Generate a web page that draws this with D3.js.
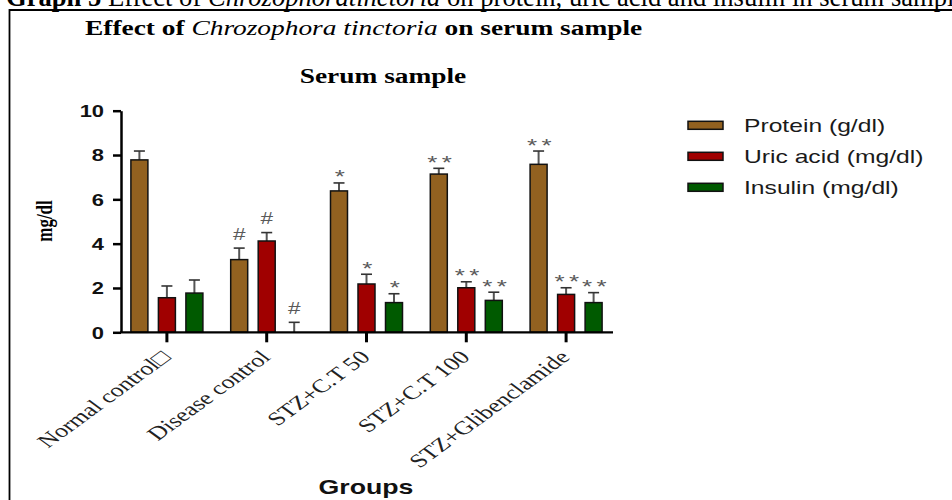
<!DOCTYPE html>
<html><head><meta charset="utf-8">
<script src="https://cdn.jsdelivr.net/npm/d3@7"></script>
<style>body{margin:0;background:#fff}svg{display:block}</style>
</head><body><svg id="c" width="952" height="500"></svg>
<script>
const categories = ["Normal control\u25A1","Disease control","STZ+C.T 50","STZ+C.T 100","STZ+Glibenclamide"];
const seriesNames = ["Protein (g/dl)","Uric acid (mg/dl)","Insulin (mg/dl)"];
const protein = [7.78,3.28,6.38,7.14,7.58];
const proteinErr = [0.40,0.52,0.36,0.26,0.60];
const uricAcid = [1.56,4.12,2.18,2.01,1.71];
const uricAcidErr = [0.53,0.38,0.44,0.27,0.30];
const insulin = [1.77,0.0,1.34,1.44,1.34];
const insulinErr = [0.59,0.45,0.40,0.37,0.45];
const proteinSig = ["","#","*","* *","* *"];
const uricAcidSig = ["","#","*","* *","* *"];
const insulinSig = ["","#","*","* *","* *"];
const yTicks = [0,2,4,6,8,10];
const colors = ["#926120","#a00000","#005a00"];

const SX = 1.37; // horizontal stretch of the original picture
const svg = d3.select("#c");
const serif = "'Liberation Serif','Times New Roman',serif";
const sans = "'Liberation Sans',Arial,Helvetica,sans-serif";

const values = [protein, uricAcid, insulin];
const errs = [proteinErr, uricAcidErr, insulinErr];
const sigs = [proteinSig, uricAcidSig, insulinSig];

// caption above frame (cut off at the top edge, as in the original)
const cap = svg.append("text").attr("x",6).attr("y",6)
  .attr("font-family",serif).attr("font-size",26.6).attr("fill","#000");
cap.append("tspan").attr("font-weight","bold").text("Graph 5 ");
cap.append("tspan").text("Effect of ");
cap.append("tspan").attr("font-style","italic").text("Chrozophoratinctoria");
cap.append("tspan").text(" on protein, uric acid and insulin in serum sample");

// frame
svg.append("path").attr("d","M9.5,500V10H952").attr("fill","none").attr("stroke","#000").attr("stroke-width",1.8);

function sText(parent, x, y, extra){
  return parent.append("text").attr("transform",`translate(${x},${y}) scale(${SX},1)${extra||""}`);
}

// titles
const t1 = sText(svg,85,35).attr("font-family",serif).attr("font-size",20).attr("font-weight","bold");
t1.append("tspan").text("Effect of ");
t1.append("tspan").attr("font-style","italic").attr("font-weight","normal").text("Chrozophora tinctoria");
t1.append("tspan").text(" on serum sample");

sText(svg,383,83).attr("text-anchor","middle").attr("font-family",serif).attr("font-size",20)
  .attr("font-weight","bold").text("Serum sample");

// scales
const x0 = d3.scaleBand().domain(categories).range([117,616]);
const y = d3.scaleLinear().domain([0,10]).range([332.3,110.7]);
const x1 = d3.scaleBand().domain(seriesNames).range([0,72]).paddingInner(0.382);
const gOff = c => x0(c) + (x0.bandwidth()-72)/2;

// bars
seriesNames.forEach((s,si)=>{
  const g = svg.append("g");
  categories.forEach((c,ci)=>{
    const v = values[si][ci], e = errs[si][ci];
    const bx = gOff(c)+x1(s), bw = x1.bandwidth(), cx = bx+bw/2;
    // error bar
    g.append("line").attr("x1",cx).attr("x2",cx).attr("y1",y(v)).attr("y2",y(v+e))
      .attr("stroke","#555").attr("stroke-width",2);
    g.append("line").attr("x1",cx-5.5).attr("x2",cx+5.5).attr("y1",y(v+e)).attr("y2",y(v+e))
      .attr("stroke","#333").attr("stroke-width",1.6);
    if (v>0) g.append("rect").attr("x",bx).attr("y",y(v)).attr("width",bw).attr("height",y(0)-y(v))
      .attr("fill",colors[si]).attr("stroke","#111").attr("stroke-width",1.5);
    const lab = sigs[si][ci];
    if (lab){
      const hash = lab.includes("#");
      const t = sText(g,cx,y(v+e)-(hash ? 8.5 : -0.5)).attr("text-anchor","middle").attr("font-family",sans)
        .attr("font-size",hash ? 16.5 : 19).attr("fill","#5a5a5a").text(lab);
      if (!hash) t.attr("letter-spacing",-1);
    }
  });
});

// y axis
const ya = svg.append("g").attr("transform","translate(121,0)")
  .call(d3.axisLeft(y).tickValues(yTicks).tickSize(8).tickSizeOuter(0).tickFormat(d3.format("d")));
ya.select(".domain").attr("stroke","#000").attr("stroke-width",2.5);
ya.selectAll(".tick line").attr("stroke","#000").attr("stroke-width",2.5);
ya.selectAll(".tick text").attr("x",null).attr("dy","0.36em")
  .attr("transform",`translate(-17,0) scale(${SX},1)`)
  .attr("font-family",sans).attr("font-size",16).attr("font-weight","bold").attr("fill","#111");

// x axis
svg.append("line").attr("x1",120).attr("x2",613).attr("y1",y(0)).attr("y2",y(0))
  .attr("stroke","#000").attr("stroke-width",2.2);
const xa = svg.append("g").attr("transform",`translate(0,${y(0)})`)
  .call(d3.axisBottom(x0).tickSize(10).tickSizeOuter(0));
xa.select(".domain").remove();
xa.selectAll(".tick line").attr("stroke","#000").attr("stroke-width",3);
xa.selectAll(".tick text").attr("y",null).attr("dy",null)
  .attr("transform",`translate(5,26) scale(${SX},1) rotate(-45)`)
  .attr("text-anchor","end").attr("font-family",serif).attr("font-size",19).attr("fill","#222");

// axis titles
sText(svg,52,221," rotate(-90)").attr("text-anchor","middle").attr("font-family",serif)
  .attr("font-size",17).attr("font-weight","bold").text("mg/dl");
sText(svg,366,494).attr("text-anchor","middle").attr("font-family",sans)
  .attr("font-size",19.5).attr("font-weight","bold").attr("fill","#111").text("Groups");

// legend
seriesNames.forEach((s,i)=>{
  const cy = 125.3 + i*31;
  svg.append("rect").attr("x",688).attr("y",cy-4).attr("width",35).attr("height",8)
    .attr("fill",colors[i]).attr("stroke","#111").attr("stroke-width",1.5);
  sText(svg,744,cy+6.5).attr("font-family",sans).attr("font-size",18).attr("fill","#1a1a1a").text(s);
});
</script></body></html>
